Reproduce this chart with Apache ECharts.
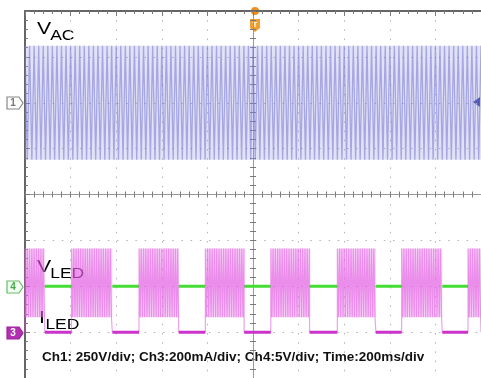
<!DOCTYPE html>
<html>
<head>
<meta charset="utf-8">
<script src="https://cdn.jsdelivr.net/npm/echarts/dist/echarts.min.js"></script>
<style>
	html, body { margin: 0; padding: 0; background: #fff; }
	#scope { width: 481px; height: 378px; }
</style>
</head>
<body>
<div id="scope"></div>
<script>
// scope settings (per division)
var ch1VoltsPerDiv = 250;   // V
var ch3MaPerDiv = 200;      // mA
var ch4VoltsPerDiv = 5;     // V
var ch1Offset = 2;          // div from centre
var ch3Offset = -3;
var ch4Offset = -2;

// time window, ms relative to trigger (10 div x 200 ms)
var timeMin = -1000;
var timeMax = 1000;
var timeStep = 200;

// Ch1 VAC: one mains half cycle per step, peaks
var vacCycle = [310, -310];
var vacStepMs = 10;

// Ch3 ILED: burst on/off times (ms) and ripple inside each burst (mA)
var burstStartMs = [-1000, -796, -500, -209, 78, 370, 652, 943];
var burstEndMs = [-913, -617, -326, -39, 248, 539, 830, 1000];
var iledRipple = [365, 65];
var iledStepMs = 5;
var iledOff = 0;

// Ch4 VLED flat level (V), seen between bursts
var vledLevel = 0;

var scaleText = 'Ch1: 250V/div; Ch3:200mA/div; Ch4:5V/div; Time:200ms/div';

var vacData = [];
for (var t = timeMin, k = 0; t <= timeMax; t += vacStepMs, ++k) {
	vacData.push([t, ch1Offset + vacCycle[k % vacCycle.length] / ch1VoltsPerDiv]);
}
var vacHi = ch1Offset + Math.max.apply(null, vacCycle) / ch1VoltsPerDiv;
var vacLo = ch1Offset + Math.min.apply(null, vacCycle) / ch1VoltsPerDiv;

var iledHi = ch3Offset + Math.max.apply(null, iledRipple) / ch3MaPerDiv;
var iledLo = ch3Offset + Math.min.apply(null, iledRipple) / ch3MaPerDiv;
var iledZero = ch3Offset + iledOff / ch3MaPerDiv;
var vledY = ch4Offset + vledLevel / ch4VoltsPerDiv;

var burstData = [];
var burstAreas = [];
var offData = [];
var vledData = [];
for (var i = 0; i < burstStartMs.length; ++i) {
	burstData.push([burstStartMs[i], iledZero]);
	for (var t = burstStartMs[i], k = 0; t <= burstEndMs[i]; t += iledStepMs, ++k) {
		burstData.push([t, ch3Offset + iledRipple[k % iledRipple.length] / ch3MaPerDiv]);
	}
	burstData.push([burstEndMs[i], iledZero]);
	burstData.push(null);
	burstAreas.push([{ coord: [burstStartMs[i], iledLo] }, { coord: [burstEndMs[i], iledHi] }]);
	if (i < burstStartMs.length - 1) {
		offData.push([burstEndMs[i], iledZero], [burstStartMs[i + 1], iledZero], null);
		vledData.push([burstEndMs[i], vledY], [burstStartMs[i + 1], vledY], null);
	}
}

var gridBox = { left: 25, top: 11, width: 460, height: 368 };
var tickColor = '#7a7a7a';

function xAx(grid, pos, onZero, showLine, split) {
	return {
		gridIndex: grid, type: 'value', min: timeMin, max: timeMax, interval: timeStep,
		position: pos,
		axisLine: { show: showLine, onZero: onZero, lineStyle: { color: onZero ? '#9a9a9a' : '#666', width: onZero ? 1 : 2 } },
		axisTick: { show: true, inside: true, length: onZero ? 3 : 5, lineStyle: { color: tickColor } },
		minorTick: { show: true, splitNumber: 5, length: 3, lineStyle: { color: tickColor } },
		axisLabel: { show: false },
		splitLine: { show: split, lineStyle: { color: '#b4b4b4', type: [1.5, 7.7] } }
	};
}
function yAx(grid, pos, onZero, showLine, split) {
	return {
		gridIndex: grid, type: 'value', min: -4, max: 4, interval: 1,
		position: pos,
		axisLine: { show: showLine, onZero: onZero, lineStyle: { color: onZero ? '#9a9a9a' : '#666', width: onZero ? 1 : 2 } },
		axisTick: { show: true, inside: true, length: onZero ? 3 : 5, lineStyle: { color: tickColor } },
		minorTick: { show: true, splitNumber: 5, length: 3, lineStyle: { color: tickColor } },
		axisLabel: { show: false },
		splitLine: { show: split, lineStyle: { color: '#b4b4b4', type: [1.5, 7.7] } }
	};
}

function marker(cy, stroke, fill, txt, txtColor) {
	return {
		type: 'group', children: [
			{ type: 'polygon', shape: { points: [[7, cy - 6], [19, cy - 6], [23, cy], [19, cy + 6], [7, cy + 6]] },
				style: { fill: fill, stroke: stroke, lineWidth: 1.2 } },
			{ type: 'text', x: 13, y: cy, style: { text: txt, fill: txtColor, font: 'bold 10px "Liberation Sans"', align: 'center', verticalAlign: 'middle' } }
		]
	};
}

function label(x, y, main, sub, size) {
	return {
		type: 'group', x: x, y: y, scaleX: 1.25, children: [
			{ type: 'text', x: 0, y: 0, style: { text: main, fill: '#000', font: size + 'px "Liberation Sans"', verticalAlign: 'bottom' } },
			{ type: 'text', x: main == 'V' ? size * 0.62 : size * 0.3, y: 5, style: { text: sub, fill: '#000', font: (size - 3) + 'px "Liberation Sans"', verticalAlign: 'bottom' } }
		]
	};
}

var myChart = echarts.init(document.getElementById('scope'));
var option = {
	animation: false,
	backgroundColor: '#fff',
	grid: [gridBox, gridBox, gridBox],
	xAxis: [
		xAx(0, 'top', false, true, true),
		xAx(1, 'bottom', true, true, false),
		xAx(2, 'top', true, false, false)
	],
	yAxis: [
		yAx(0, 'left', false, true, true),
		yAx(1, 'right', true, true, false),
		yAx(2, 'left', true, false, false)
	],
	series: [{
		name: 'VAC', type: 'line', symbol: 'none', silent: true,
		data: vacData,
		lineStyle: { color: 'rgba(105,105,205,0.5)', width: 1.3 },
		markArea: {
			silent: true,
			itemStyle: { color: 'rgba(160,160,228,0.3)' },
			data: [[{ coord: [timeMin, vacLo] }, { coord: [timeMax, vacHi] }]]
		}
	}, {
		name: 'VLED', type: 'line', symbol: 'none', silent: true, connectNulls: false,
		data: vledData,
		lineStyle: { color: '#44dd33', width: 3 }
	}, {
		name: 'ILED', type: 'line', symbol: 'none', silent: true, connectNulls: false,
		data: burstData,
		lineStyle: { color: 'rgba(222,70,222,0.5)', width: 1.2 },
		markArea: {
			silent: true,
			itemStyle: { color: 'rgba(240,150,240,0.4)' },
			data: burstAreas
		}
	}, {
		name: 'ILED off', type: 'line', symbol: 'none', silent: true, connectNulls: false,
		data: offData,
		lineStyle: { color: '#cc33cc', width: 3 }
	}],
	graphic: [
		marker(103, '#888', '#fff', '1', '#777'),
		marker(287, '#66bb66', '#f2fff2', '4', '#44aa44'),
		marker(333, '#a020a0', '#b030b0', '3', '#fff'),
		{ type: 'circle', shape: { cx: 255, cy: 11, r: 4 }, style: { fill: '#f09020' } },
		{ type: 'polygon', shape: { points: [[250, 19], [260, 19], [260, 28], [255, 32], [250, 28]] }, style: { fill: '#f0a030' } },
		{ type: 'text', x: 255, y: 25, style: { text: 'T', fill: '#fff', font: 'bold 8px "Liberation Sans"', align: 'center', verticalAlign: 'middle' } },
		{ type: 'polygon', shape: { points: [[480, 97], [480, 107], [473, 102]] }, style: { fill: '#2a3c9c' } },
		label(37, 38, 'V', 'AC', 17),
		label(37, 276, 'V', 'LED', 17),
		label(39, 327, 'I', 'LED', 17),
		{ type: 'text', x: 42, y: 357, scaleX: 1.04, style: { text: scaleText, fill: '#111', font: 'bold 13px "Liberation Sans"', verticalAlign: 'middle' } }
	]
};
myChart.setOption(option);
</script>
</body>
</html>
